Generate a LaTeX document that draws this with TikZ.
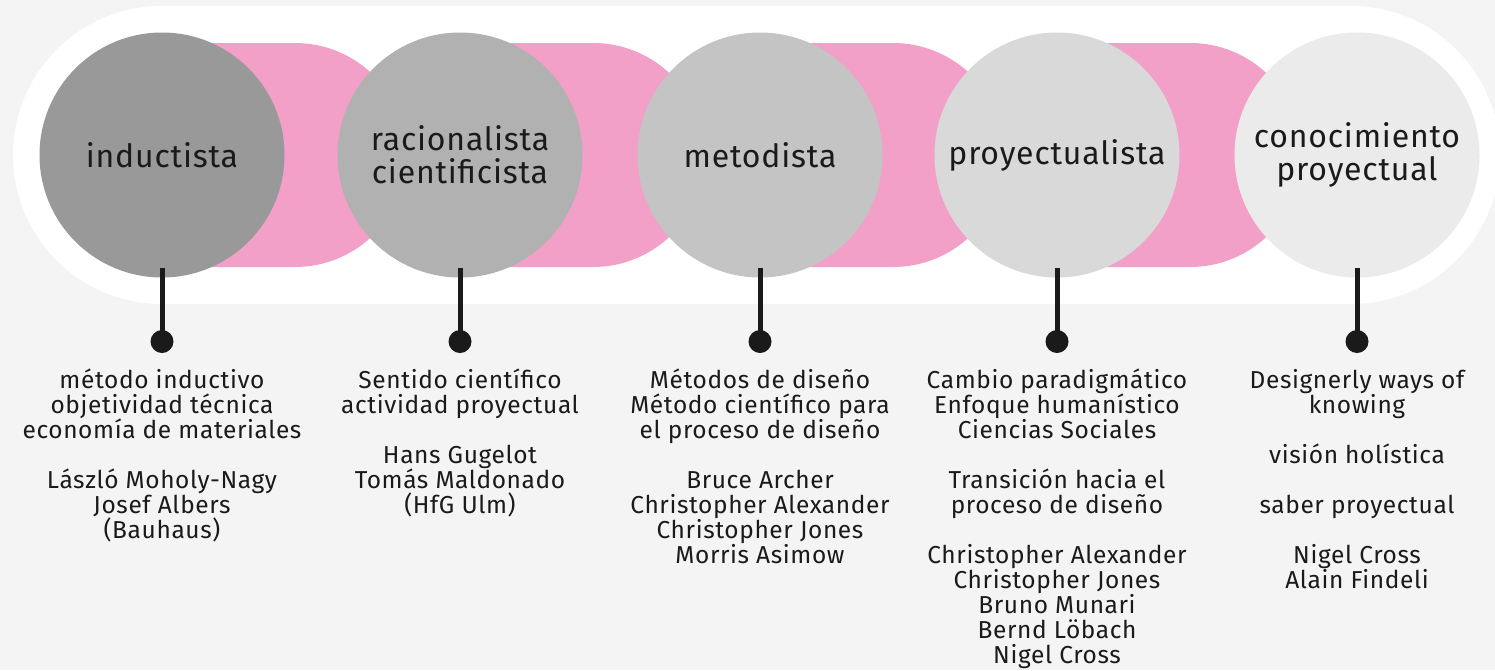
\documentclass[tikz,border=0pt]{standalone}
\usepackage{fontspec}
\setmainfont[LetterSpace=2.5]{Fira Sans}
\usetikzlibrary{positioning}
\definecolor{paper}{HTML}{F4F4F4}
\definecolor{bandpink}{HTML}{F2A0C7}
\definecolor{inkdark}{HTML}{1A1A1A}
\definecolor{stageone}{HTML}{999999}
\definecolor{stagetwo}{HTML}{B0B1B0}
\definecolor{stagethree}{HTML}{C4C4C4}
\definecolor{stagefour}{HTML}{D9D9D9}
\definecolor{stagefive}{HTML}{EBEBEB}
\newcommand{\gapline}{\\[25pt]}

\begin{document}
\begin{tikzpicture}[x=1pt, y=-1pt,
    stage/.style={circle, minimum size=245pt, inner sep=0pt, align=center,
        text=inkdark, font=\fontsize{32}{33}\selectfont},
    pin/.style={circle, fill=inkdark, minimum size=23pt, inner sep=0pt},
    notes/.style={anchor=north, inner sep=0pt, align=center, text=inkdark,
        font=\fontsize{24.5}{25}\selectfont},
    stem/.style={draw=inkdark, line width=5pt}]

        \useasboundingbox (0,0) rectangle (1495,670);
        \clip (0,0) rectangle (1495,670);
        \fill[paper] (0,0) rectangle (1495,670);

        % white band behind the stages
        \fill[white, rounded corners=149pt] (13,6) rectangle (1500,304);

        % pink links between stages
        \foreach \x in {162,460,760,1057} {
            \fill[bandpink, rounded corners=112pt] (\x-100,43) rectangle (\x+245,267);
        }

        \foreach \x/\clr/\name [count=\i] in {162/stageone/inductista,
            460/stagetwo/{racionalista\\cientificista},
            760/stagethree/metodista,
            1057/stagefour/proyectualista,
            1357/stagefive/{conocimiento\\proyectual}} {
            \node[stage, fill=\clr] (c\i) at (\x,155) {\name};
            \node[pin] (d\i) at (\x,341.5) {};
            \draw[stem] ([yshift=10pt]c\i.south) -- (d\i.center);
        }

        \node[notes] (t1) at (162,369) {método inductivo\\objetividad técnica\\economía de materiales\gapline
            László Moholy-Nagy\\Josef Albers\\(Bauhaus)};
        \node[notes] (t2) at (460,369) {Sentido científico\\actividad proyectual\gapline
            Hans Gugelot\\Tomás Maldonado\\(HfG Ulm)};
        \node[notes] (t3) at (760,369) {Métodos de diseño\\Método científico para\\el proceso de diseño\gapline
            Bruce Archer\\Christopher Alexander\\Christopher Jones\\Morris Asimow};
        \node[notes] (t4) at (1057,369) {Cambio paradigmático\\Enfoque humanístico\\Ciencias Sociales\gapline
            Transición hacia el\\proceso de diseño\gapline
            Christopher Alexander\\Christopher Jones\\Bruno Munari\\Bernd Löbach\\Nigel Cross};
        \node[notes] (t5) at (1357,369) {Designerly ways of\\knowing\gapline
            visión holística\gapline
            saber proyectual\gapline
            Nigel Cross\\Alain Findeli};

\end{tikzpicture}
\end{document}
